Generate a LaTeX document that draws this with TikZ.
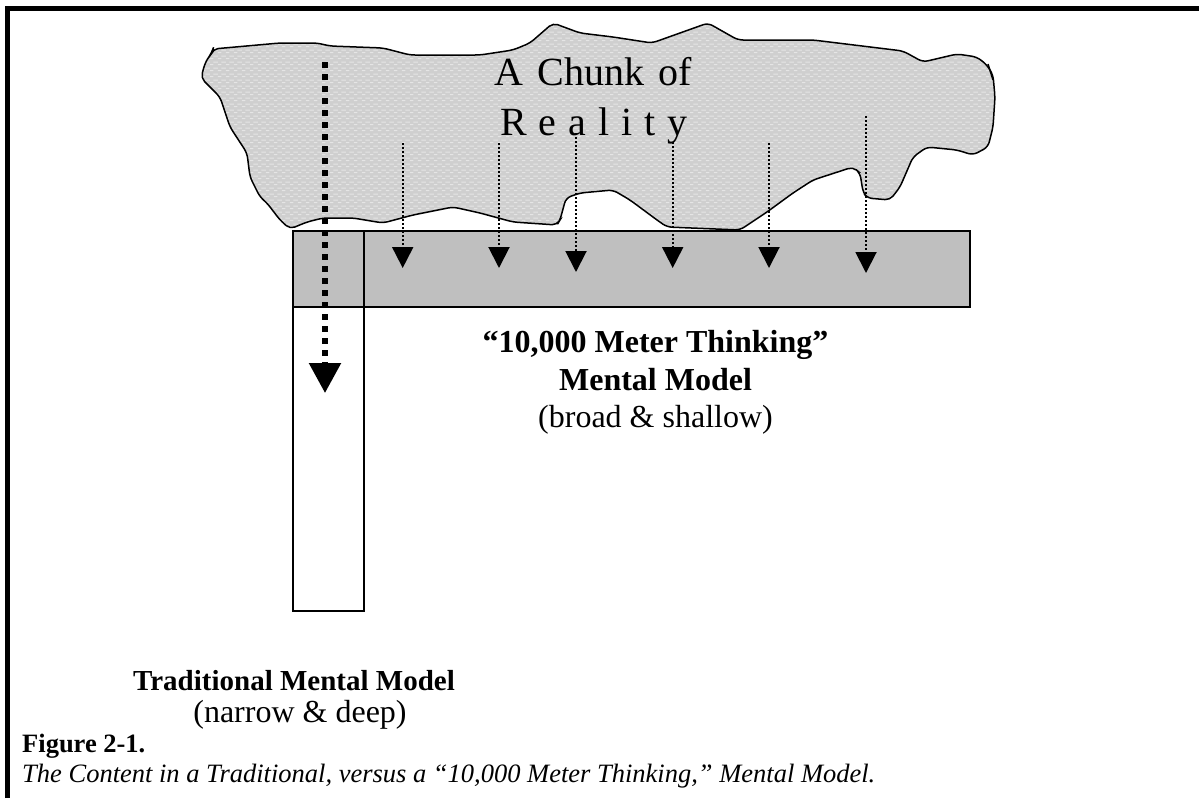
\documentclass[tikz,border=0pt]{standalone}
\usepackage{fontspec}
\setmainfont{Liberation Serif}
\usetikzlibrary{arrows.meta,patterns.meta}

% fine grain used inside the "chunk of reality" cloud
\tikzdeclarepattern{
  name=chunkgrain,
  type=uncolored,
  bounding box={(0pt,0pt) and (8pt,6pt)},
  tile size={(8pt,6pt)},
  code={
    \fill (2pt,0.9pt) rectangle (6pt,2.1pt);
    \fill (-2pt,3.9pt) rectangle (2pt,5.1pt);
    \fill (6pt,3.9pt) rectangle (10pt,5.1pt);
  }
}

\tikzset{
  outline/.style={line width=1.5pt, draw=black},
  modelbox/.style={rectangle, outline, inner sep=0pt, anchor=north west},
  smallarrow/.style={line width=2pt, dash pattern=on 2pt off 2pt,
    -{Triangle[length=21pt,width=21pt]}},
  bigarrow/.style={line width=5.5pt, dash pattern=on 5.5pt off 6.5pt,
    -{Triangle[length=30pt,width=31pt]}},
  label/.style={anchor=base, inner sep=0pt, font=\fontsize{32}{37}\selectfont},
  boldlabel/.style={label, font=\fontsize{32}{37}\selectfont\bfseries},
  chunktext/.style={anchor=base, inner sep=0pt, font=\fontsize{40}{46}\selectfont},
  caption/.style={anchor=base west, inner sep=0pt},
}

\begin{document}
\begin{tikzpicture}[x=1pt,y=-1pt]
\useasboundingbox (0,0) rectangle (1199,798);

% page frame: top rule and left rule
\draw[line width=5pt, line join=miter] (7.5,798) |- (1199,8.5);

% the chunk of reality
\def\chunkoutline{(213,49) -- (280,43) -- (317,43) -- (330,46) -- (383,48) -- (410,55) -- (480,55) -- (513,50) -- (530,43) -- (553,23) -- (580,33) -- (613,37) -- (652,43) -- (708,23) -- (738,40) -- (813,40) -- (903,51) -- (923,62) -- (957,54) -- (977,57) -- (987,65) -- (993,75) -- (995,97) -- (993,127) -- (988,147) -- (973,155) -- (957,150) -- (927,147) -- (913,157) -- (900,187) -- (890,200) -- (867,198) -- (863,192) -- (860,173) -- (853,167) -- (813,180) -- (793,193) -- (767,212) -- (740,230) -- (667,227) -- (657,220) -- (630,200) -- (613,190) -- (580,193) -- (566,198) -- (560,220) -- (557,225) -- (513,222) -- (480,213) -- (453,207) -- (413,215) -- (383,223) -- (353,218) -- (323,218) -- (307,222) -- (290,229) -- (280,220) -- (267,203) -- (260,197) -- (250,177) -- (247,153) -- (230,127) -- (220,97) -- (201,78) -- (205,63) -- (212,52) -- cycle}
\path[fill=black!19, rounded corners=5pt] \chunkoutline;
\path[pattern=chunkgrain, pattern color=white!90!black, rounded corners=5pt] \chunkoutline;
\draw[line width=1.5pt, rounded corners=5pt] \chunkoutline;
\draw[line width=1.5pt] (988,64) -- (993,80);

\node[chunktext] (chunk1) at (593,85) {\spaceskip=14pt A Chunk of};
\node[chunktext] (chunk2) at (594,135) {\spaceskip=12pt R e a l i t y};

% the two mental models
\node[modelbox, fill=white, minimum width=71pt, minimum height=380pt] (narrowfill) at (292,230) {};
\node[modelbox, fill=black!25, minimum width=677pt, minimum height=76pt] (broad) at (292,230) {};
\node[modelbox, minimum width=71pt, minimum height=380pt] (narrow) at (292,230) {};

% shallow probes
\coordinate (p1s) at (402.7,143); \coordinate (p1e) at (402.7,268);
\coordinate (p2s) at (499,143);   \coordinate (p2e) at (499,268);
\coordinate (p3s) at (576,133);   \coordinate (p3e) at (576,272);
\coordinate (p4s) at (672.7,142); \coordinate (p4e) at (672.7,268);
\coordinate (p5s) at (769,143);   \coordinate (p5e) at (769,268);
\coordinate (p6s) at (866,116);   \coordinate (p6e) at (866,273);
\draw[smallarrow] (p1s) -- (p1e);
\draw[smallarrow] (p2s) -- (p2e);
\draw[smallarrow] (p3s) -- (p3e);
\draw[smallarrow] (p4s) -- (p4e);
\draw[smallarrow] (p5s) -- (p5e);
\draw[smallarrow] (p6s) -- (p6e);

% deep probe
\coordinate (deeps) at (325,62);
\coordinate (deepe) at (325,393);
\draw[bigarrow] (deeps) -- (deepe);

% labels
\node[boldlabel] (broadt1) at (655.5,352) {“10,000 Meter Thinking”};
\node[boldlabel] (broadt2) at (655.5,390) {Mental Model};
\node[label] (broadt3) at (655.5,427) {(broad \& shallow)};

\node[boldlabel, font=\fontsize{29}{34}\selectfont\bfseries] (narrowt1) at (294,690) {Traditional Mental Model};
\node[label] (narrowt2) at (300,722) {(narrow \& deep)};

\node[caption, font=\fontsize{26.5}{31}\selectfont\bfseries] (fignum) at (22,752) {Figure 2-1.};
\node[caption, font=\fontsize{26.5}{31}\selectfont\itshape] (figtext) at (22,782) {The Content in a Traditional, versus a “10,000 Meter Thinking,” Mental Model.};
\end{tikzpicture}
\end{document}
